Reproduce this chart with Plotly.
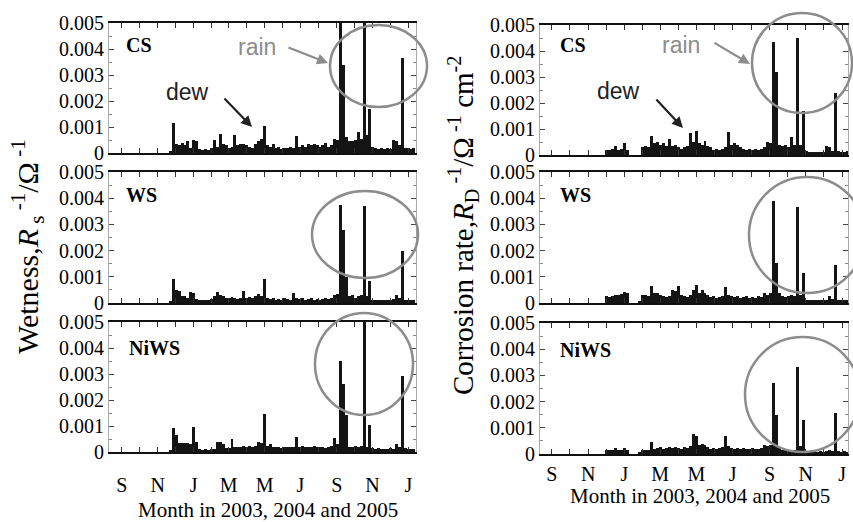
import plotly.graph_objects as go
import pandas as pd

# ---------------- data ----------------
START = pd.Timestamp("2003-09-01")
# start day (days since 1 Sep 2003) of each 5-day bin
bin_days = list(range(80, 500, 5))

# values in units of 1e-3 (Ohm^-1 or Ohm^-1 cm^-2)
wet_cs = [0.05, 1.15, 0.35, 0.3, 0.4, 0.3, 0.45, 0.2, 0.5, 0.45,
          0.15, 0.1, 0.15, 0.1, 0.2, 0.5, 0.25, 0.75, 0.35, 0.3,
          0.2, 0.25, 0.7, 0.3, 0.35, 0.35, 0.3, 0.25, 0.2, 0.35,
          0.45, 0.55, 1.05, 0.3, 0.25, 0.35, 0.2, 0.25, 0.15, 0.2,
          0.2, 0.25, 0.2, 0.65, 0.25, 0.3, 0.25, 0.35, 0.3, 0.35,
          0.3, 0.25, 0.3, 0.4, 0.25, 0.3, 0.55, 0.5, 5.0, 3.4,
          0.6, 0.45, 0.45, 0.5, 0.8, 0.55, 5.0, 0.7, 1.7, 0.25,
          0.2, 0.15, 0.2, 0.15, 0.2, 0.15, 0.5, 0.45, 0.3, 3.65,
          0.2, 0.2, 0.15, 0.2]
wet_ws = [0.05, 0.92, 0.5, 0.45, 0.25, 0.25, 0.2, 0.42, 0.4, 0.15,
          0.12, 0.1, 0.12, 0.1, 0.15, 0.25, 0.42, 0.3, 0.25, 0.2,
          0.2, 0.22, 0.18, 0.15, 0.18, 0.47, 0.2, 0.22, 0.2, 0.25,
          0.35, 0.25, 0.9, 0.2, 0.15, 0.2, 0.12, 0.15, 0.12, 0.2,
          0.15, 0.12, 0.38, 0.2, 0.15, 0.18, 0.12, 0.15, 0.18, 0.12,
          0.15, 0.12, 0.15, 0.2, 0.15, 0.2, 0.32, 0.35, 3.75, 2.8,
          1.0, 0.25, 0.3, 0.2, 0.25, 0.3, 3.7, 0.25, 0.83, 0.12,
          0.1, 0.12, 0.1, 0.12, 0.1, 0.12, 0.15, 0.3, 0.2, 2.0,
          0.12, 0.1, 0.12, 0.1]
wet_niws = [0.05, 0.92, 0.67, 0.35, 0.35, 0.35, 0.35, 0.3, 0.95, 0.4,
            0.1, 0.08, 0.1, 0.08, 0.1, 0.12, 0.38, 0.38, 0.3, 0.15,
            0.15, 0.51, 0.2, 0.2, 0.18, 0.22, 0.2, 0.25, 0.2, 0.22,
            0.4, 0.35, 1.47, 0.25, 0.3, 0.2, 0.18, 0.2, 0.15, 0.2,
            0.2, 0.18, 0.2, 0.56, 0.2, 0.25, 0.2, 0.18, 0.2, 0.22,
            0.2, 0.18, 0.2, 0.15, 0.2, 0.25, 0.54, 0.3, 3.5, 2.6,
            1.44, 0.2, 0.2, 0.25, 0.2, 0.25, 5.0, 0.2, 1.05, 0.15,
            0.12, 0.15, 0.12, 0.1, 0.12, 0.15, 0.12, 0.32, 0.2, 2.94,
            0.15, 0.12, 0.1, 0.12]

cor_cs = [0, 0, 0.2, 0.2, 0.25, 0.35, 0.2, 0.25, 0.45, 0.2,
          0, 0, 0, 0, 0.3, 0.35, 0.3, 0.75, 0.45, 0.5,
          0.4, 0.45, 0.35, 0.6, 0.35, 0.4, 0.3, 0.25, 0.3, 0.35,
          0.85, 0.5, 0.92, 0.45, 0.4, 0.55, 0.35, 0.3, 0.2, 0.25,
          0.2, 0.25, 0.3, 0.9, 0.4, 0.45, 0.4, 0.3, 0.25, 0.2,
          0.25, 0.2, 0.25, 0.2, 0.25, 0.3, 0.5, 0.45, 4.35, 3.2,
          0.4, 0.35, 0.4, 0.3, 0.7, 0.4, 4.5, 0.4, 1.7, 0.15,
          0.12, 0.1, 0.12, 0.1, 0.12, 0.1, 0.35, 0.3, 0.15, 2.4,
          0.15, 0.12, 0.1, 0.15]
cor_ws = [0, 0, 0.25, 0.22, 0.25, 0.32, 0.3, 0.35, 0.42, 0.4,
          0, 0, 0, 0.05, 0.3, 0.32, 0.25, 0.64, 0.38, 0.38,
          0.3, 0.25, 0.22, 0.25, 0.5, 0.45, 0.64, 0.3, 0.25, 0.22,
          0.3, 0.5, 0.67, 0.38, 0.5, 0.38, 0.3, 0.22, 0.25, 0.2,
          0.22, 0.25, 0.61, 0.3, 0.25, 0.22, 0.25, 0.2, 0.22, 0.25,
          0.2, 0.22, 0.2, 0.25, 0.22, 0.38, 0.3, 0.4, 3.88, 1.53,
          0.4, 0.25, 0.22, 0.25, 0.3, 0.25, 3.65, 0.3, 1.15, 0.12,
          0.1, 0.12, 0.1, 0.12, 0.1, 0.12, 0.1, 0.25, 0.15, 1.44,
          0.12, 0.1, 0.12, 0.1]
cor_niws = [0, 0, 0.17, 0.15, 0.17, 0.22, 0.17, 0.15, 0.22, 0.17,
            0, 0, 0, 0.05, 0.15, 0.17, 0.15, 0.46, 0.2, 0.22,
            0.25, 0.2, 0.23, 0.25, 0.22, 0.28, 0.23, 0.2, 0.25, 0.22,
            0.3, 0.76, 0.67, 0.36, 0.4, 0.36, 0.25, 0.2, 0.23, 0.2,
            0.22, 0.25, 0.67, 0.3, 0.22, 0.2, 0.23, 0.2, 0.22, 0.2,
            0.2, 0.22, 0.18, 0.2, 0.22, 0.36, 0.3, 0.35, 2.71, 1.5,
            0.25, 0.17, 0.15, 0.17, 0.15, 0.17, 3.31, 0.29, 1.28, 0.1,
            0.1, 0.08, 0.1, 0.08, 0.1, 0.08, 0.1, 0.15, 0.12, 1.56,
            0.1, 0.08, 0.1, 0.08]

panel_labels = ["CS", "WS", "NiWS"]
month_starts = pd.date_range("2003-08-01", "2005-01-01", freq="MS")
month_text = ["", "S", "", "N", "", "J", "", "M", "", "M", "", "J", "", "S", "", "N", "", "J"]
y_ticks = [0, 0.001, 0.002, 0.003, 0.004, 0.005]
y_text = ["0", "0.001", "0.002", "0.003", "0.004", "0.005"]

# ---------------- layout helpers ----------------
W, H = 853, 522
def px(x): return x / W
def py(y): return 1 - y / H

month_days = [(m - START).days for m in month_starts]
SERIF = "Liberation Serif, Times New Roman, serif"
SANS = "Liberation Sans, Arial, sans-serif"

series = [wet_cs, wet_ws, wet_niws, cor_cs, cor_ws, cor_niws]
# pixel frames: (x0, x1, ytop, ybottom)
frames = [(109, 416, 23, 153), (109, 416, 172, 303), (109, 416, 322, 452),
          (540, 848, 25, 155), (540, 848, 172, 303), (540, 848, 323, 454)]
xranges = [[-22, 501]] * 3 + [[-20, 498]] * 3
standoffs = [0, 0, 14, 0, 0, 1]

fig = go.Figure()
layout = dict(width=W, height=H, margin=dict(l=0, r=0, t=0, b=0, autoexpand=False),
              paper_bgcolor="white", plot_bgcolor="white", showlegend=False,
              bargap=0, font=dict(family=SERIF, color="black"))

for i, vals in enumerate(series):
    k = i + 1
    xa = "x" if k == 1 else f"x{k}"
    ya = "y" if k == 1 else f"y{k}"
    fig.add_trace(go.Bar(x=bin_days, y=[v * 1e-3 for v in vals], width=5, offset=0,
                         marker=dict(color="#141414", line=dict(width=0)),
                         xaxis=xa, yaxis=ya, hoverinfo="skip"))
    x0, x1, yt, yb = frames[i]
    bottom = (i % 3 == 2)
    layout[f"xaxis{k if k > 1 else ''}"] = dict(
        domain=[px(x0), px(x1)], range=xranges[i], anchor=ya, automargin=False,
        tickmode="array", tickvals=month_days, ticktext=month_text,
        showticklabels=bottom, ticks="inside", ticklen=5, tickwidth=1, tickcolor="#333",
        showline=True, linecolor="#111", linewidth=1.5, mirror="ticks",
        showgrid=False, zeroline=False,
        tickfont=dict(family=SERIF, size=20, color="black"),
        ticklabelstandoff=standoffs[i])
    layout[f"yaxis{k if k > 1 else ''}"] = dict(
        domain=[py(yb), py(yt)], range=[0, 0.005], anchor=xa, automargin=False,
        tickmode="array", tickvals=y_ticks, ticktext=y_text,
        ticks="inside", ticklen=5, tickwidth=1, tickcolor="#444",
        minor=dict(ticks="inside", dtick=0.0005, ticklen=3, tickcolor="#888"),
        showline=True, linecolor="#aaaaaa", linewidth=1, mirror="ticks",
        showgrid=False, zeroline=False,
        tickfont=dict(family=SERIF, size=20, color="black"))

annotations = []
# panel labels
label_pos = [(124, 45), (124, 195), (127, 348), (558, 45), (558, 195), (558, 350)]
for i, (lx, ly) in enumerate(label_pos):
    annotations.append(dict(x=px(lx), y=py(ly), xref="paper", yref="paper",
                            text=f"<b>{panel_labels[i % 3]}</b>", showarrow=False,
                            xanchor="left", yanchor="middle",
                            font=dict(family=SERIF, size=20, color="black")))
# axis titles
annotations += [
    dict(x=px(27), y=py(247), xref="paper", yref="paper", textangle=-90, showarrow=False,
         xanchor="center", yanchor="middle",
         text="Wetness,<i>R</i><sub> s</sub><sup> -1</sup>/Ω<sup> -1</sup>",
         font=dict(family=SERIF, size=30, color="black")),
    dict(x=px(463), y=py(226), xref="paper", yref="paper", textangle=-90, showarrow=False,
         xanchor="center", yanchor="middle",
         text="Corrosion rate,<i>R</i><sub>D</sub><sup> -1</sup>/Ω<sup> -1</sup> cm<sup>-2</sup>",
         font=dict(family=SERIF, size=29, color="black")),
    dict(x=px(268), y=py(510), xref="paper", yref="paper", showarrow=False,
         xanchor="center", yanchor="middle",
         text="Month in 2003, 2004 and 2005", font=dict(family=SERIF, size=21, color="black")),
    dict(x=px(700), y=py(496), xref="paper", yref="paper", showarrow=False,
         xanchor="center", yanchor="middle",
         text="Month in 2003, 2004 and 2005", font=dict(family=SERIF, size=21, color="black")),
]
# rain / dew notes
GREY = "#8c8c8c"
for (tx, ty, txt, col, hx, hy, tlx, tly) in [
        (257, 47, "rain", GREY, 328, 63, 287, 47),
        (187, 92, "dew", "#222222", 252, 127, 223, 97),
        (681, 45, "rain", GREY, 750, 64, 713, 42),
        (618, 91, "dew", "#222222", 683, 128, 655, 98)]:
    annotations.append(dict(x=px(tx), y=py(ty), xref="paper", yref="paper", text=txt,
                            showarrow=False, xanchor="center", yanchor="middle",
                            font=dict(family=SANS, size=23, color=col)))
    annotations.append(dict(x=px(hx), y=py(hy), xref="paper", yref="paper", text="",
                            showarrow=True, ax=tlx - hx, ay=tly - hy, arrowhead=2,
                            arrowsize=1, arrowwidth=2.2, arrowcolor=col))
layout["annotations"] = annotations

circles = [(330, 427, 25, 107), (312, 418, 191, 278), (315, 413, 313, 415),
           (752, 852, 13, 113), (749, 865, 177, 293), (745, 860, 337, 452)]
layout["shapes"] = [dict(type="circle", xref="paper", yref="paper",
                         x0=px(a), x1=px(b), y0=py(d), y1=py(c),
                         line=dict(color=GREY, width=2.5)) for a, b, c, d in circles]

fig.update_layout(**layout)
fig.write_html("out.html")
